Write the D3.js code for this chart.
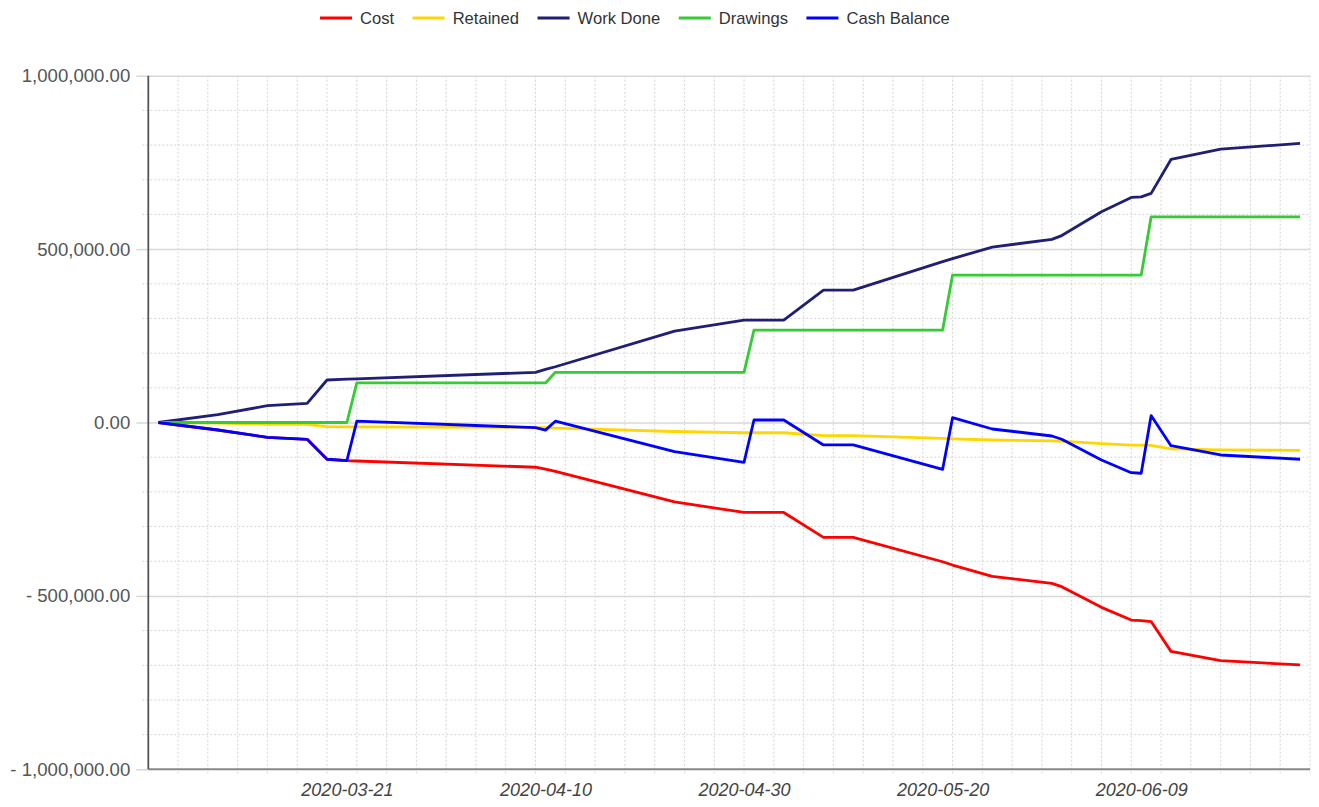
<!DOCTYPE html>
<html>
<head>
<meta charset="utf-8">
<script src="https://cdn.jsdelivr.net/npm/d3@7"></script>
<style>
  body { margin: 0; background: #fff; }
  svg { display: block; font-family: 'Liberation Sans', Arial, sans-serif; }
</style>
</head>
<body>
<svg id="chart" width="1319" height="807"></svg>
<script>
// one point per posting date
const dates = ['2020-03-02', '2020-03-08', '2020-03-13', '2020-03-17', '2020-03-19', '2020-03-21',
  '2020-03-22', '2020-04-09', '2020-04-10', '2020-04-11', '2020-04-23', '2020-04-30', '2020-05-01',
  '2020-05-04', '2020-05-08', '2020-05-11', '2020-05-20', '2020-05-21', '2020-05-25', '2020-05-31',
  '2020-06-01', '2020-06-05', '2020-06-08', '2020-06-09', '2020-06-10', '2020-06-12', '2020-06-17',
  '2020-06-25'];

const cost = [0, -21600, -42700, -48400, -106000, -110000, -111000, -129000, -134600, -141000,
  -228900, -259400, -259400, -259400, -331400, -331400, -401500, -411000, -443700, -463900,
  -473400, -533000, -569700, -571400, -574000, -660000, -686700, -699000];
const retained = [0, -2000, -5000, -5500, -12000, -12500, -12600, -14500, -15200, -16000,
  -26000, -29500, -29500, -29500, -38000, -38000, -46000, -47000, -50500, -53000,
  -54000, -61000, -65000, -65000, -66000, -76000, -79000, -80500];
const workDone = [0, 23000, 48400, 55300, 122500, 125000, 126000, 144700, 153000, 160800,
  263700, 295400, 295400, 295400, 381900, 381900, 463700, 472600, 505800, 528000,
  539000, 607500, 649000, 650700, 660600, 758500, 788200, 804700];
const drawings = [0, 0, 0, 0, 0, 0, 114000, 114000, 114000, 144700,
  144700, 144700, 266600, 266600, 266600, 266600, 266600, 425000, 425000, 425000,
  425000, 425000, 425000, 425000, 593000, 593000, 593000, 593000];
const cashBalance = [0, -21600, -42700, -48400, -106000, -110000, 3700, -15000, -22000, 3700,
  -84200, -114700, 7200, 7200, -64800, -64800, -134900, 13800, -18700, -38900,
  -48400, -108000, -144700, -146400, 20000, -66900, -93700, -106000];

const seriesNames = ['Cost', 'Retained', 'Work Done', 'Drawings', 'Cash Balance'];
const seriesValues = [cost, retained, workDone, drawings, cashBalance];

const yTicks = [-1000000, -500000, 0, 500000, 1000000];
const xLabels = ['2020-03-21', '2020-04-10', '2020-04-30', '2020-05-20', '2020-06-09'];
const xStart = '2020-03-01';
const xEnd = '2020-06-26';

// ---- drawing ----
const colors = ['#ff0000', '#ffd700', '#1f1f75', '#33cc33', '#0000ff'];
const parse = d3.utcParse('%Y-%m-%d');
const svg = d3.select('#chart');

const plotLeft = 148.3;
const plotRight = 1310;
const plotTop = 75.7;
const plotBottom = 769.3;

const x = d3.scaleUtc()
  .domain([parse(xStart), parse(xEnd)])
  .range([plotLeft, plotRight]);
const y = d3.scaleLinear()
  .domain([-1000000, 1000000])
  .range([plotBottom, plotTop]);

const days = d3.utcDay.count(parse(xStart), parse(xEnd));
const minorDates = d3.range(3, days + 1, 3).map(d => d3.utcDay.offset(parse(xStart), d));
const minorValues = d3.range(-10, 11).map(i => i * 100000).filter(v => !yTicks.includes(v));

// grid
const grid = svg.append('g').classed('grid', true);
grid.selectAll('.vgrid')
  .data(minorDates)
  .enter().append('line')
  .attr('x1', d => x(d)).attr('x2', d => x(d))
  .attr('y1', plotTop).attr('y2', plotBottom + 4)
  .attr('stroke', '#d4d4d4')
  .attr('stroke-dasharray', '2,2');
grid.selectAll('.hgrid')
  .data(minorValues)
  .enter().append('line')
  .attr('x1', plotLeft - 6).attr('x2', plotRight)
  .attr('y1', d => y(d)).attr('y2', d => y(d))
  .attr('stroke', '#d4d4d4')
  .attr('stroke-dasharray', '2,2');

// y axis with major grid
const yAxis = svg.append('g')
  .attr('transform', `translate(${plotLeft},0)`)
  .call(d3.axisLeft(y)
    .tickValues(yTicks)
    .tickSize(12)
    .tickPadding(6)
    .tickFormat(d => d < 0 ? '- ' + d3.format(',.2f')(-d) : d3.format(',.2f')(d)));
yAxis.select('.domain').remove();
yAxis.selectAll('.tick line').attr('stroke', '#d8d8d8').attr('stroke-width', 1.5);
yAxis.selectAll('.tick').filter(d => d !== -1000000).append('line')
  .attr('x1', 0).attr('x2', plotRight - plotLeft)
  .attr('stroke', '#d8d8d8').attr('stroke-width', 1.5);
yAxis.selectAll('.tick text')
  .attr('fill', '#555')
  .style('font-size', '18.6px');

// x axis labels
const xAxis = svg.append('g')
  .attr('transform', `translate(0,${plotBottom})`)
  .call(d3.axisBottom(x)
    .tickValues(xLabels.map(parse))
    .tickSize(0)
    .tickPadding(14)
    .tickFormat(d3.utcFormat('%Y-%m-%d')));
xAxis.select('.domain').remove();
xAxis.selectAll('.tick text')
  .attr('fill', '#444')
  .style('font-size', '18px')
  .style('font-style', 'italic');

// axis lines
svg.append('line')
  .attr('x1', plotLeft).attr('x2', plotRight)
  .attr('y1', plotBottom).attr('y2', plotBottom)
  .attr('stroke', '#888').attr('stroke-width', 2);
svg.append('line')
  .attr('x1', plotLeft).attr('x2', plotLeft)
  .attr('y1', plotTop).attr('y2', plotBottom)
  .attr('stroke', '#555').attr('stroke-width', 1.8);

// series
const line = d3.line()
  .x((d, i) => x(parse(dates[i])))
  .y(d => y(d));
svg.append('g').selectAll('path')
  .data(seriesValues)
  .enter().append('path')
  .attr('d', d => line(d))
  .attr('fill', 'none')
  .attr('stroke', (d, i) => colors[i])
  .attr('stroke-width', 2.8)
  .attr('stroke-linejoin', 'round');

// legend
const legend = svg.append('g').attr('transform', 'translate(320,18)');
let legendX = 0;
seriesNames.forEach((name, i) => {
  const item = legend.append('g').attr('transform', `translate(${legendX},0)`);
  item.append('line')
    .attr('x1', 0).attr('x2', 32)
    .attr('stroke', colors[i]).attr('stroke-width', 3);
  const label = item.append('text')
    .attr('x', 40).attr('dy', '0.35em')
    .attr('fill', '#333')
    .style('font-size', '16.6px')
    .text(name);
  legendX += 40 + label.node().getComputedTextLength() + 18.5;
});
</script>
</body>
</html>
